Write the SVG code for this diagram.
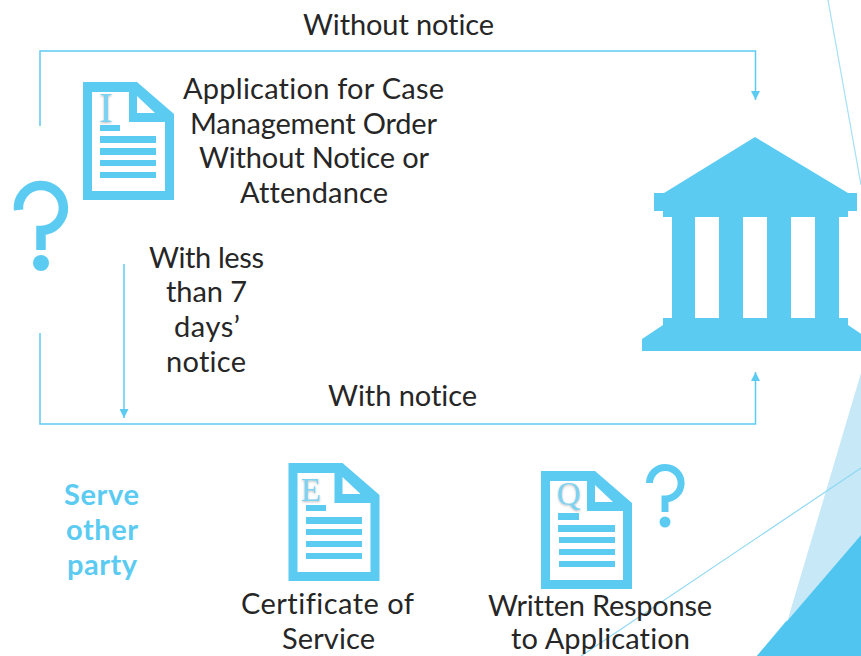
<svg xmlns="http://www.w3.org/2000/svg" width="861" height="656" viewBox="0 0 861 656">
<style>
.t{font-family:"Lato","Open Sans",sans-serif;font-size:29px;fill:#262626;text-anchor:middle;font-variant-ligatures:none}
.b{font-weight:700;fill:#5ccbf2}
.c{fill:none;stroke:#5ccbf2;stroke-width:1.5}
.i{fill:#5ccbf2}
.l{font-family:"Liberation Serif",serif;fill:#7dd2f1;filter:url(#s)}
</style>
<defs>
<filter id="s" x="-20%" y="-20%" width="140%" height="140%"><feDropShadow dx="0" dy="1" stdDeviation="0.8" flood-color="#888" flood-opacity="0.6"/></filter>
<marker id="a" viewBox="0 0 9 9" refX="9" refY="4.5" markerWidth="9" markerHeight="9" markerUnits="userSpaceOnUse" orient="auto"><path d="M0 0L9 4.5L0 9Z" fill="#5ccbf2"/></marker>
<path id="doc" fill-rule="evenodd" d="M0 0H54L91 32V118H0ZM9 10V109H82V40H46V10ZM54 14V31H72Z"/>
</defs>
<g id="background">
<path d="M861 373L777 656H757L861 535Z" fill="#c6e8f7"/>
<path d="M787 620L777 656H757Z" fill="#62cdf3"/>
<path d="M861 535V656H757Z" fill="#4fc5ef"/>
<path d="M828 0L861 185" stroke="#a6e0f6" stroke-width="1.2" fill="none"/>
<path d="M581 656L861 468" stroke="#8fd8f3" stroke-width="1.2" fill="none"/>
</g>
<g id="connectors">
<path class="c" d="M40 126V51H755.500V100" marker-end="url(#a)"/>
<path class="c" d="M40 333V424H755.500V372" marker-end="url(#a)"/>
<path class="c" d="M124 264V418" marker-end="url(#a)"/>
</g>
<g id="label-without-notice"><text class="t" x="398.500" y="35" textLength="191">Without notice</text></g>
<g id="label-with-notice"><text class="t" x="402.500" y="406" textLength="149">With notice</text></g>
<g id="label-less"><text class="t" x="206.500" y="268" textLength="115">With less</text><text class="t" x="206.500" y="302" textLength="81">than 7</text><text class="t" x="207" y="337" textLength="66">days’</text><text class="t" x="206" y="371.500" textLength="80">notice</text></g>
<g id="doc-application">
<use href="#doc" class="i" x="83" y="82"/>
<text class="l" x="99" y="122" font-size="42">I</text>
<path class="i" d="M100 125h20v6h-20zM100 136h56v7h-56zM100 148h56v7h-56zM100 160h56v6h-56zM100 172h56v6h-56z"/>
<text class="t" x="313.500" y="99" textLength="261">Application for Case</text><text class="t" x="313.500" y="134" textLength="247">Management Order</text><text class="t" x="314" y="168" textLength="230">Without Notice or</text><text class="t" x="314" y="203" textLength="148">Attendance</text>
</g>
<g id="question-large">
<path d="M18.500 210A22.500 22.500 0 1 1 41 230.500V250" fill="none" stroke="#5ccbf2" stroke-width="9.500"/>
<circle class="i" cx="41" cy="263" r="8"/>
</g>
<g id="court">
<path class="i" d="M755 137L848 193H857V211H848V217H839V318H848V325L869 339V351H642V339L663 325V318H672V217H663V211H654V193H664ZM695 217V318H719V217ZM743 217V318H767V217ZM791 217V318H815V217Z" fill-rule="evenodd"/>
</g>
<g id="serve-other-party"><text class="t b" x="101.500" y="505" textLength="75">Serve</text><text class="t b" x="102" y="540" textLength="72">other</text><text class="t b" x="102" y="575" textLength="70">party</text></g>
<g id="doc-certificate">
<use href="#doc" class="i" x="288.500" y="463"/>
<text class="l" x="301" y="501" font-size="33">E</text>
<path class="i" d="M306 505h20v6h-20zM306 517h56v7h-56zM306 529h56v6h-56zM306 541h56v6h-56zM306 553h56v6h-56z"/>
<text class="t" x="327.500" y="614" textLength="173">Certificate of</text><text class="t" x="328.500" y="649" textLength="93">Service</text>
</g>
<g id="doc-response">
<use href="#doc" class="i" x="541" y="471"/>
<text class="l" x="557" y="505" font-size="33">Q</text>
<path class="i" d="M558 513h21v7h-21zM558 525h57v7h-57zM559 537h56v6h-56zM559 549h56v6h-56zM559 561h56v6h-56z"/>
<text class="t" x="600" y="616" textLength="224">Written Response</text><text class="t" x="600.500" y="649" textLength="179">to Application</text>
</g>
<g id="question-small">
<path d="M649.500 483A15.800 15.800 0 1 1 665 499V512" fill="none" stroke="#5ccbf2" stroke-width="7"/>
<circle class="i" cx="665" cy="522" r="5.500"/>
</g>
</svg>
